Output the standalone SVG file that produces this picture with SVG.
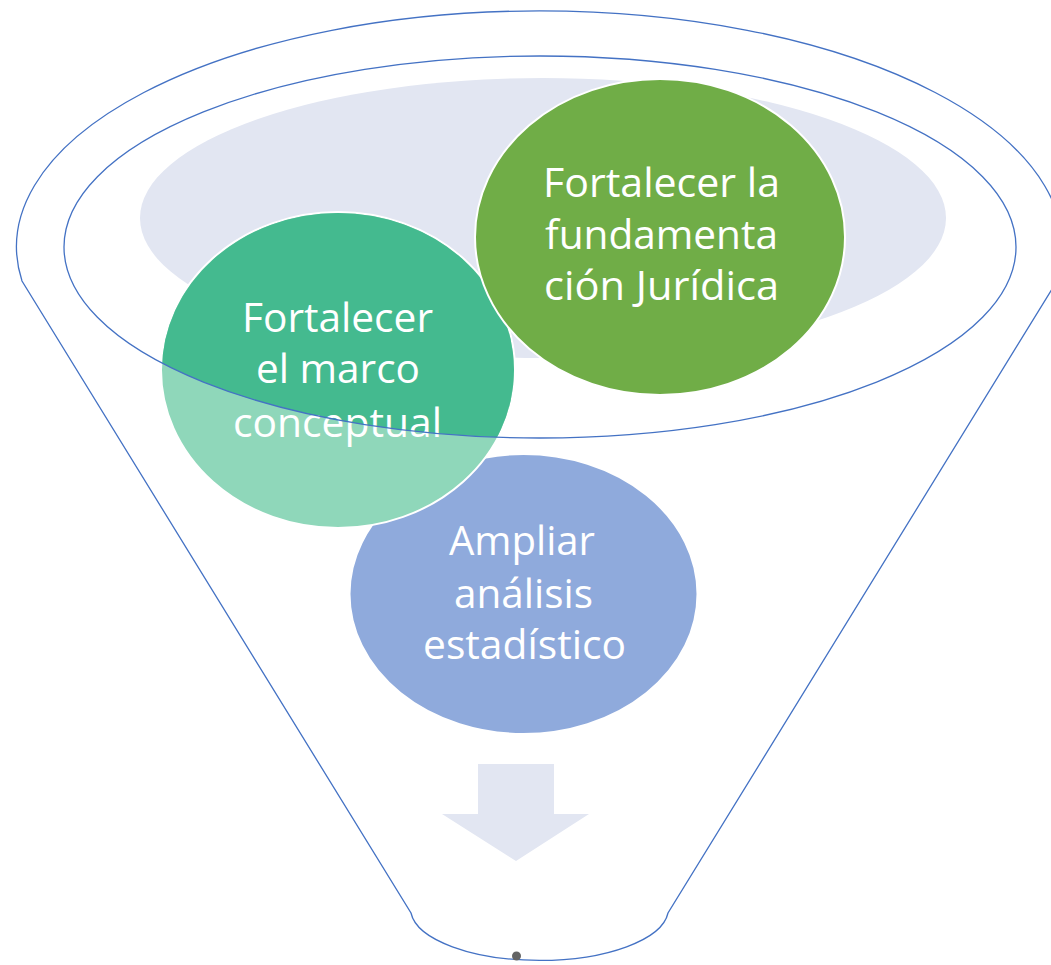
<svg xmlns="http://www.w3.org/2000/svg" width="1051" height="965" viewBox="0 0 1051 965">
<style>
.funnel{fill:none;stroke:#4472C4;stroke-width:1.3}
.lbl{font-family:"Open Sans","Liberation Sans",sans-serif;font-size:40px;fill:#FFFFFF;text-anchor:middle}
.node{stroke:#FFFFFF;stroke-width:2}
</style>
<defs>
<clipPath id="innerClip"><ellipse cx="540" cy="247" rx="476" ry="191"/></clipPath>
</defs>
<rect width="1051" height="965" fill="#FFFFFF"/>
<g id="funnel">
<path class="funnel" d="M1057 281 A523 236 0 1 0 22 281 L411 913 A129 52 0 0 0 668 913 Z"/>
<ellipse cx="543" cy="218" rx="403" ry="140" fill="#E2E6F2"/>
</g>
<g id="connectors">
<polygon points="478,764 554,764 554,814 589,814 516,861 442,814 478,814" fill="#E2E6F2"/>
</g>
<g id="node-ampliar">
<ellipse class="node" cx="523.5" cy="594" rx="174" ry="140" fill="#8FAADC"/>
<text class="lbl"><tspan x="522" y="555" textLength="146" lengthAdjust="spacingAndGlyphs">Ampliar</tspan><tspan x="523.5" y="608" textLength="139" lengthAdjust="spacingAndGlyphs">análisis</tspan><tspan x="524.5" y="659" textLength="203" lengthAdjust="spacingAndGlyphs">estadístico</tspan></text>
</g>
<g id="node-marco">
<ellipse class="node" cx="338" cy="370" rx="177" ry="158" fill="#8FD7BA"/>
<ellipse cx="338" cy="370" rx="176" ry="157" fill="#44BA8F" clip-path="url(#innerClip)"/>
<text class="lbl"><tspan x="337.5" y="332" textLength="191" lengthAdjust="spacingAndGlyphs">Fortalecer</tspan><tspan x="338" y="383" textLength="164" lengthAdjust="spacingAndGlyphs">el marco</tspan><tspan x="337.5" y="437" textLength="209" lengthAdjust="spacingAndGlyphs">conceptual</tspan></text>
</g>
<g id="node-juridica">
<ellipse class="node" cx="660" cy="237" rx="185" ry="158" fill="#70AD47"/>
<text class="lbl"><tspan x="661.5" y="197" textLength="237" lengthAdjust="spacingAndGlyphs">Fortalecer la</tspan><tspan x="661.5" y="249" textLength="233" lengthAdjust="spacingAndGlyphs">fundamenta</tspan><tspan x="661.5" y="300" textLength="235" lengthAdjust="spacingAndGlyphs">ción Jurídica</tspan></text>
</g>
<g id="ring">
<ellipse class="funnel" cx="540" cy="247" rx="476" ry="191"/>
</g>
<g id="dot">
<circle cx="516.5" cy="956" r="4.5" fill="#646464"/>
</g>
</svg>
